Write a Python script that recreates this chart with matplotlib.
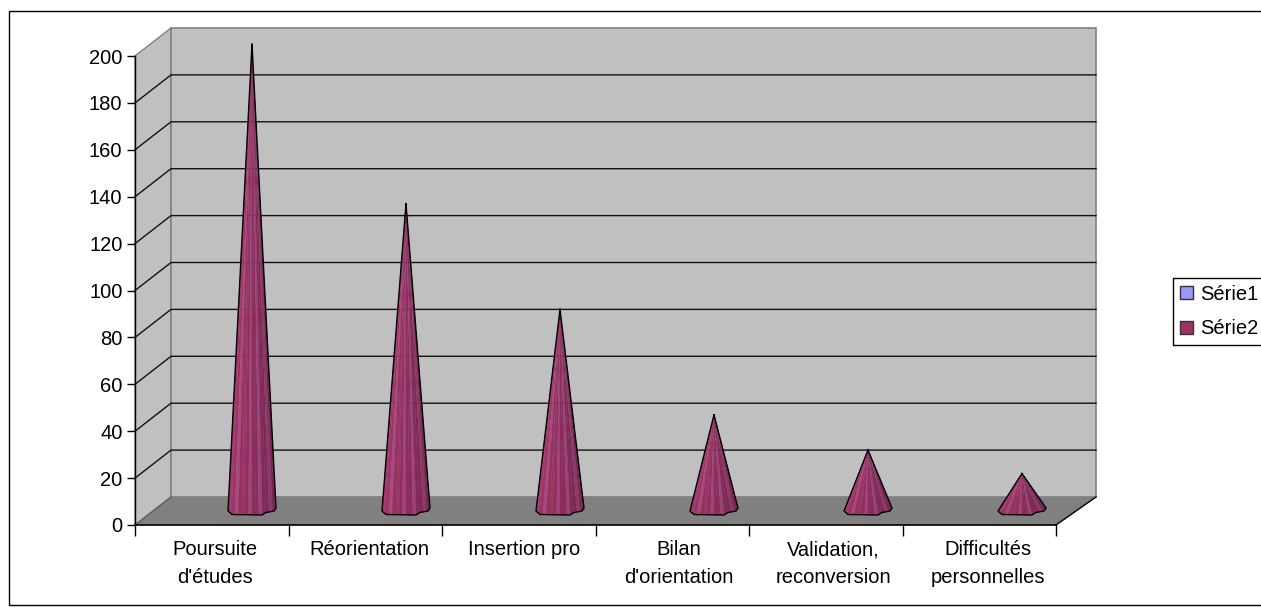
#!/usr/bin/python3
import numpy as np
import matplotlib
matplotlib.use("Agg")
import matplotlib.pyplot as plt
from matplotlib.patches import Patch, Polygon, Rectangle

W, H = 1261, 608

categories = ["Poursuite\nd'études", "Réorientation", "Insertion pro",
              "Bilan\nd'orientation", "Validation,\nreconversion", "Difficultés\npersonnelles"]
serie2 = [199, 131, 86, 41, 26, 16]
y_ticks = [0, 20, 40, 60, 80, 100, 120, 140, 160, 180, 200]
legend_labels = ["Série1", "Série2"]

# pixel outline of a cone foot, relative to the cone centre
foot_x = [-24, -20, 10, 14, 22, 24]
foot_y = [0, -3.5, -4, -1.5, 0, 3]
# stripes, left to right
stripes = ["#a33a72", "#9c3469", "#a84a7c", "#96305f", "#9a3568", "#8f2f60", "#a0447a",
           "#8c2d5e", "#8a2c5c", "#9a4578", "#842a58", "#802856", "#8a3a68", "#7a2652"]

plt.rcParams['font.family'] = ['Liberation Sans', 'DejaVu Sans']
FS = 14.5
fig = plt.figure(figsize=(W / 100, H / 100), dpi=100)
ax = fig.add_axes([135 / W, 1 - 525 / H, (1056 - 135) / W, (525 - 56) / H])
ax.set_xlim(0, 6)
ax.set_ylim(0, 200)
ax.patch.set_visible(False)
for s in ["top", "right"]:
    ax.spines[s].set_visible(False)
ax.spines["left"].set_linewidth(1)
ax.spines["bottom"].set_linewidth(1.2)

px_x = (1056 - 135) / 6
px_y = (525 - 56) / 200
dx, dy = 36 / px_x, 28 / px_y
dx_r = 40 / px_x

# walls and floor
ax.add_patch(Polygon([(0, 0), (dx, dy), (dx, 200 + dy), (0, 200)], fc="#c0c0c0", ec="#808080", lw=1, clip_on=False, zorder=1))
ax.add_patch(Polygon([(dx, dy), (6 + dx_r, dy), (6 + dx_r, 200 + dy), (dx, 200 + dy)], fc="#c0c0c0", ec="#808080", lw=1.2, clip_on=False, zorder=1))
ax.add_patch(Polygon([(0, 0), (6, 0), (6 + dx_r, dy), (dx, dy)], fc="#808080", ec="none", clip_on=False, zorder=1.5))
ax.plot([6, 6 + dx_r], [0, dy], color="black", lw=1, clip_on=False, zorder=1.6)
ax.plot([0, dx], [0, dy], color="#606060", lw=1, clip_on=False, zorder=1.6)

# gridlines
for v in y_ticks[1:-1]:
    ax.plot([0, dx, 6 + dx_r], [v, v + dy, v + dy], color="#111111", lw=1, clip_on=False, zorder=2)

# cones, they sit a bit wider apart than the ticks
for i, v in enumerate(serie2):
    cx = (117 + 154 * i) / px_x
    cy = 14 / px_y
    edge_x = np.linspace(foot_x[0], foot_x[-1], len(stripes) + 1)
    edge_y = np.interp(edge_x, foot_x[:-1], foot_y[:-1])
    edge_y[-1] = foot_y[-1]
    for j, c in enumerate(stripes):
        pts = [(cx, cy + v),
               (cx + edge_x[j] / px_x, cy + edge_y[j] / px_y),
               (cx + edge_x[j + 1] / px_x, cy + edge_y[j + 1] / px_y)]
        ax.add_patch(Polygon(pts, fc=c, ec=c, lw=0.2, clip_on=False, zorder=3))
    ox = [cx] + [cx + p / px_x for p in foot_x] + [cx]
    oy = [cy + v] + [cy + p / px_y for p in foot_y] + [cy + v]
    ax.plot(ox, oy, color="black", lw=1, clip_on=False, zorder=4)

# axes
ax.set_yticks(y_ticks)
ax.tick_params(axis="y", length=6, width=1, labelsize=FS, pad=3)
ax.set_xticks(range(7))
ax.set_xticklabels([])
ax.tick_params(axis="x", which="major", length=8, width=1)
ax.set_xticks([(80 + 154.6 * i) / px_x for i in range(6)], minor=True)
ax.set_xticklabels(categories, minor=True, fontsize=FS, linespacing=1.6)
ax.tick_params(axis="x", which="minor", length=0, pad=11)

# outer frame, runs past the right edge
fig.add_artist(Rectangle((9 / W, 1 - 605 / H), (W + 20) / W, 594 / H, transform=fig.transFigure,
                         fc="none", ec="black", lw=1, zorder=0))

handles = [Patch(fc="#9999ff", ec="#333333"), Patch(fc="#993366", ec="#333333")]
fig.legend(handles, legend_labels, loc="upper left", bbox_to_anchor=(1173 / W, 1 - 278 / H), borderaxespad=0,
           fancybox=False, framealpha=1, edgecolor="black", fontsize=FS, handlelength=0.62, handleheight=0.62,
           handletextpad=0.4, labelspacing=0.75, borderpad=0.35)

fig.savefig("out.png", dpi=100)
